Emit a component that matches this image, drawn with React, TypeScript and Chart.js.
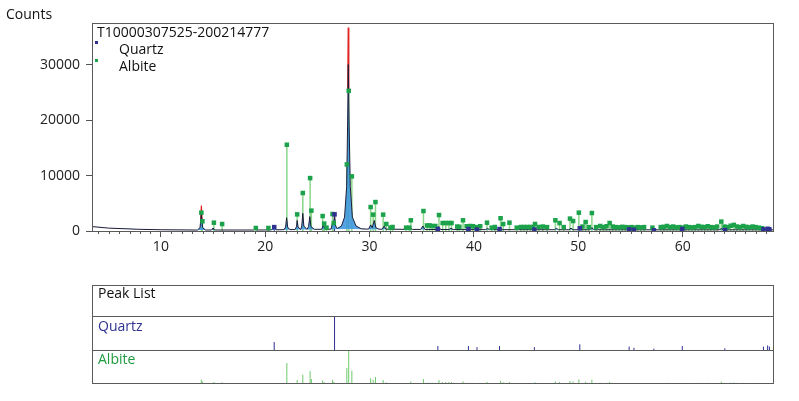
import React, { useEffect, useRef } from "react";
import { Chart, registerables } from "chart.js";

Chart.register(...registerables);

// ---- axis ranges / ticks ----
const X_MIN = 3.4;
const X_MAX = 68.75;
const Y_MAX = 37500;
const yTickValues = [0, 10000, 20000, 30000];
const xTickLabels = [10, 20, 30, 40, 50, 60];

// ---- background under the scan ----
const backgroundX = [3.4, 4, 5, 6, 7, 8, 10, 12, 14, 16, 18, 20, 22, 24, 26, 28, 30, 32, 35, 40, 45, 50, 55, 60, 65, 68.75];
const backgroundY = [800, 680, 520, 420, 350, 300, 230, 190, 170, 165, 170, 190, 230, 280, 330, 350, 330, 300, 270, 240, 230, 220, 210, 210, 210, 210];

// ---- calculated profile (black line, blue fill) ----
const profileX = [
  3.4, 5, 8, 10, 13.5, 13.75, 13.88, 14.0, 14.3, 14.85, 15.0, 15.15, 18.9, 19.05, 19.2,
  20.6, 20.85, 21.05, 21.8, 21.95, 22.05, 22.15, 22.35, 22.85, 23.0, 23.06, 23.15, 23.4,
  23.5, 23.6, 23.7, 24.0, 24.15, 24.27, 24.38, 24.7, 25.4, 25.5, 25.55, 25.65, 25.9, 26.3,
  26.45, 26.55, 26.64, 26.75, 26.9, 27.3, 27.6, 27.8, 27.9, 27.96, 28.03, 28.15, 28.35,
  28.7, 29.2, 29.9, 30.1, 30.25, 30.45, 30.6, 30.9, 31.2, 31.4, 31.55, 33.7, 33.9, 34.1,
  34.9, 35.1, 35.3, 36.4, 36.6, 36.8, 37.6, 37.8, 38.0, 39.3, 39.5, 39.7, 41.1, 41.3, 41.5,
  42.3, 42.5, 42.7, 45.6, 45.8, 46.0, 47.7, 47.9, 48.1, 49.1, 49.3, 49.5, 49.95, 50.1, 50.3,
  51.1, 51.3, 51.5, 54.8, 55.0, 55.2, 59.7, 59.9, 60.1, 63.5, 63.7, 63.9, 67.9, 68.15, 68.4, 68.75,
];
const profileY = [
  800, 520, 300, 230, 170, 600, 3000, 600, 170, 180, 550, 180, 180, 350, 180,
  200, 800, 210, 240, 700, 2400, 700, 250, 260, 800, 1900, 700, 280,
  900, 3200, 900, 290, 800, 2600, 800, 300, 310, 700, 1400, 600, 320, 330,
  1500, 1100, 2900, 900, 450, 900, 2500, 8000, 20000, 30000, 20000, 8000, 2500,
  900, 400, 330, 1100, 600, 1900, 600, 330, 320, 900, 330, 300, 550, 290,
  280, 900, 280, 270, 800, 270, 260, 500, 260, 250, 500, 250, 245, 450, 245,
  240, 650, 240, 235, 420, 235, 230, 480, 230, 225, 520, 225, 225, 800, 225,
  220, 600, 220, 215, 380, 215, 210, 380, 210, 210, 430, 210, 210, 450, 210, 210,
];

// ---- observed tips above the calculated profile (red) ----
const observedX = [13.8, 13.88, 13.96, 20, 27.9, 27.95, 28.01];
const observedY = [1500, 4600, 1500, null, 25000, 36700, 25000];

// ---- Albite reference peaks ----
const albitePos = [
  13.88, 13.98, 15.08, 15.87, 19.1, 20.3, 22.07, 23.06, 23.6, 24.3, 24.42, 25.5, 25.65, 25.87,
  26.45, 26.57, 27.82, 28.0, 28.3, 30.1, 30.34, 30.56, 31.3, 31.6, 32.0, 32.2, 33.5, 33.8,
  33.95, 35.16, 35.5, 35.75, 36.0, 36.3, 36.65, 37.0, 37.3, 37.6, 37.85, 38.4, 38.6, 38.95,
  39.3, 39.65, 39.9, 40.2, 40.6, 41.25, 41.7, 42.0, 42.55, 42.8, 43.4, 44.1, 44.5, 44.8,
  45.1, 45.4, 45.65, 45.85, 46.2, 46.6, 47.0, 47.8, 48.2, 48.6, 49.2, 49.5, 50.05, 50.4,
  50.7, 51.0, 51.3, 51.7, 52.1, 52.4, 52.7, 53.0, 53.3, 53.6, 53.9, 54.2, 54.5, 54.8, 55.1,
  55.4, 55.7, 56.0, 56.3, 57.1, 57.9, 58.2, 58.5, 58.8, 59.1, 59.4, 59.7, 60.0, 60.3, 60.6,
  60.9, 61.2, 61.5, 61.8, 62.1, 62.4, 62.7, 63.0, 63.3, 63.7, 64.0, 64.3, 64.6, 64.9, 65.2,
  65.5, 65.8, 66.1, 66.4, 66.7, 67.0, 67.3, 67.6,
];
const albiteInt = [
  3300, 1750, 1500, 1260, 540, 540, 15550, 3000, 6850, 9540, 3670, 2700, 1330, 600,
  3060, 1440, 12000, 25270, 9850, 4320, 2950, 5220, 2950, 1260, 600, 720, 600, 600,
  1930, 3600, 1000, 1000, 900, 900, 2880, 1440, 1440, 1440, 1440, 800, 750, 1930,
  850, 900, 850, 700, 850, 1500, 600, 720, 2300, 1260, 1500, 600, 720, 720,
  720, 720, 720, 1260, 720, 800, 700, 1930, 1440, 700, 2230, 1800, 3310, 800,
  1620, 700, 3240, 700, 900, 700, 850, 1440, 800, 700, 650, 750, 700, 650, 700,
  600, 700, 650, 700, 600, 700, 750, 900, 700, 800, 650, 700, 600, 800, 700,
  650, 700, 900, 750, 700, 850, 700, 650, 800, 1690, 800, 700, 950, 1100, 800,
  700, 900, 750, 650, 800, 700, 600, 500,
];

// ---- Quartz reference peaks ----
const quartzPos = [20.86, 26.64, 36.54, 39.47, 40.29, 42.45, 45.79, 50.14, 54.87, 55.33, 57.24, 59.96, 64.04, 67.74, 68.14, 68.31];
const quartzInt = [700, 3000, 350, 350, 250, 350, 250, 500, 300, 200, 120, 350, 150, 300, 400, 300];

const FONT = "'Open Sans', 'DejaVu Sans', sans-serif";
const NAVY = "#2e3192";
const GREEN_MARK = "#1ca24b";
const GREEN_STICK = "#8ad68a";

function sticks(pos: number[], ints: number[], base: number, scale: number) {
  const out: any[] = [];
  pos.forEach((p, i) => {
    out.push({ x: p, y: base });
    out.push({ x: p, y: base + ints[i] * scale });
    out.push({ x: p, y: null });
  });
  return out;
}

const zip = (xs: number[], ys: (number | null)[]) => xs.map((x, i) => ({ x, y: ys[i] }));

const frameMain = {
  id: "frameMain",
  afterDraw(chart: any) {
    const { ctx, chartArea } = chart;
    const xs = chart.scales.x;
    ctx.save();
    ctx.strokeStyle = "#5a5a5a";
    ctx.lineWidth = 1;
    ctx.strokeRect(Math.round(chartArea.left) + 0.5, Math.round(chartArea.top) + 0.5,
      Math.round(chartArea.right - chartArea.left) - 1, Math.round(chartArea.bottom - chartArea.top));
    // minor ticks every degree
    ctx.beginPath();
    for (let v = Math.ceil(X_MIN); v <= X_MAX; v++) {
      if (v % 10 === 0) continue;
      const px = Math.round(xs.getPixelForValue(v)) + 0.5;
      ctx.moveTo(px, chartArea.bottom);
      ctx.lineTo(px, chartArea.bottom + 3);
    }
    ctx.strokeStyle = "#555";
    ctx.stroke();
    ctx.restore();
  },
};

const framePeak = {
  id: "framePeak",
  afterDraw(chart: any) {
    const { ctx, chartArea } = chart;
    const ys = chart.scales.y;
    ctx.save();
    ctx.strokeStyle = "#5a5a5a";
    ctx.lineWidth = 1;
    ctx.strokeRect(Math.round(chartArea.left) + 0.5, Math.round(chartArea.top) + 0.5,
      Math.round(chartArea.right - chartArea.left) - 1, Math.round(chartArea.bottom - chartArea.top) - 1);
    ctx.beginPath();
    [1, 2].forEach((v) => {
      const py = Math.round(ys.getPixelForValue(v)) + 0.5;
      ctx.moveTo(chartArea.left, py);
      ctx.lineTo(chartArea.right, py);
    });
    ctx.stroke();
    ctx.restore();
  },
};

export default function App() {
  const mainRef = useRef<HTMLCanvasElement>(null);
  const peakRef = useRef<HTMLCanvasElement>(null);

  useEffect(() => {
    const main = new Chart(mainRef.current as HTMLCanvasElement, {
      type: "line",
      data: {
        datasets: [
          {
            data: zip(backgroundX, backgroundY),
            borderWidth: 0,
            pointRadius: 0,
            fill: false,
            order: 10,
          },
          {
            data: zip(profileX, profileY),
            borderColor: "#1c1c38",
            borderWidth: 1,
            pointRadius: 0,
            fill: "-1",
            backgroundColor: "rgba(62,150,222,0.88)",
            order: 5,
          },
          {
            data: zip(observedX, observedY),
            borderColor: "#e02424",
            borderWidth: 1.2,
            pointRadius: 0,
            spanGaps: false,
            order: 6,
          },
          {
            data: sticks(albitePos, albiteInt, 0, 1),
            borderColor: GREEN_STICK,
            borderWidth: 1.5,
            pointRadius: 0,
            spanGaps: false,
            order: 8,
          },
          {
            data: sticks(quartzPos, quartzInt, 0, 1),
            borderColor: NAVY,
            borderWidth: 1,
            pointRadius: 0,
            spanGaps: false,
            order: 7,
          },
          {
            data: zip(albitePos, albiteInt),
            showLine: false,
            pointStyle: "rect",
            pointRadius: 3.2,
            pointBackgroundColor: GREEN_MARK,
            pointBorderWidth: 0,
            order: 2,
          },
          {
            data: zip(quartzPos, quartzInt),
            showLine: false,
            pointStyle: "rect",
            pointRadius: 3.2,
            pointBackgroundColor: NAVY,
            pointBorderWidth: 0,
            order: 1,
          },
        ] as any,
      },
      options: {
        animation: false,
        responsive: false,
        events: [],
        layout: { padding: { left: 0, right: 25, top: 23, bottom: 0 } },
        plugins: { legend: { display: false }, tooltip: { enabled: false } },
        scales: {
          x: {
            type: "linear",
            min: X_MIN,
            max: X_MAX,
            offset: false,
            afterFit: (s: any) => { s.height = 31; },
            afterBuildTicks: (s: any) => { s.ticks = xTickLabels.map((v) => ({ value: v })); },
            ticks: { color: "#222", font: { family: FONT, size: 14 }, padding: 2, maxRotation: 0, includeBounds: false },
            grid: { display: true, drawOnChartArea: false, drawTicks: true, tickLength: 6, color: "#555" },
            border: { display: false },
          },
          y: {
            type: "linear",
            min: 0,
            max: Y_MAX,
            afterFit: (s: any) => { s.width = 92; },
            afterBuildTicks: (s: any) => { s.ticks = yTickValues.map((v) => ({ value: v })); },
            ticks: { color: "#222", font: { family: FONT, size: 14 }, padding: 6, callback: (v: any) => String(v) },
            grid: { display: true, drawOnChartArea: false, drawTicks: true, tickLength: 6, color: "#555" },
            border: { display: false },
          },
        },
      },
      plugins: [frameMain],
    });

    const qMax = Math.max(...quartzInt);
    const aMax = Math.max(...albiteInt);
    const peak = new Chart(peakRef.current as HTMLCanvasElement, {
      type: "line",
      data: {
        datasets: [
          {
            data: sticks(quartzPos, quartzInt, 1, 1 / qMax),
            borderColor: NAVY,
            borderWidth: 1,
            pointRadius: 0,
            spanGaps: false,
          },
          {
            data: sticks(albitePos, albiteInt, 0, 1 / aMax),
            borderColor: "#6cc86c",
            borderWidth: 1,
            pointRadius: 0,
            spanGaps: false,
          },
        ] as any,
      },
      options: {
        animation: false,
        responsive: false,
        events: [],
        layout: { padding: { left: 92, right: 25, top: 15, bottom: 17 } },
        plugins: { legend: { display: false }, tooltip: { enabled: false } },
        scales: {
          x: { type: "linear", min: X_MIN, max: X_MAX, display: false },
          y: { type: "linear", min: 0, max: 2 + 31 / 34, display: false },
        },
      },
      plugins: [framePeak],
    });

    return () => {
      main.destroy();
      peak.destroy();
    };
  }, []);

  const txt = (extra: React.CSSProperties): React.CSSProperties => ({
    position: "absolute",
    font: `14px ${FONT}`,
    lineHeight: "14px",
    whiteSpace: "nowrap",
    color: "#111",
    ...extra,
  });

  return (
    <div style={{ position: "absolute", left: 0, top: 0, width: 799, height: 401, background: "#fff", overflow: "hidden" }}>
      <canvas ref={mainRef} width={799} height={262} style={{ position: "absolute", left: 0, top: 0 }} />
      <canvas ref={peakRef} width={799} height={131} style={{ position: "absolute", left: 0, top: 270 }} />
      <div style={txt({ left: 6, top: 7 })}>Counts</div>
      <div style={txt({ left: 97, top: 25 })}>T10000307525-200214777</div>
      <div style={{ position: "absolute", left: 95, top: 41, width: 3, height: 3, background: NAVY }} />
      <div style={txt({ left: 119, top: 42 })}>Quartz</div>
      <div style={{ position: "absolute", left: 95, top: 59, width: 3, height: 3, background: GREEN_MARK }} />
      <div style={txt({ left: 119, top: 59 })}>Albite</div>
      <div style={txt({ left: 98, top: 286 })}>Peak List</div>
      <div style={txt({ left: 98, top: 319, color: NAVY })}>Quartz</div>
      <div style={txt({ left: 98, top: 352, color: "#1f9a3f" })}>Albite</div>
    </div>
  );
}
